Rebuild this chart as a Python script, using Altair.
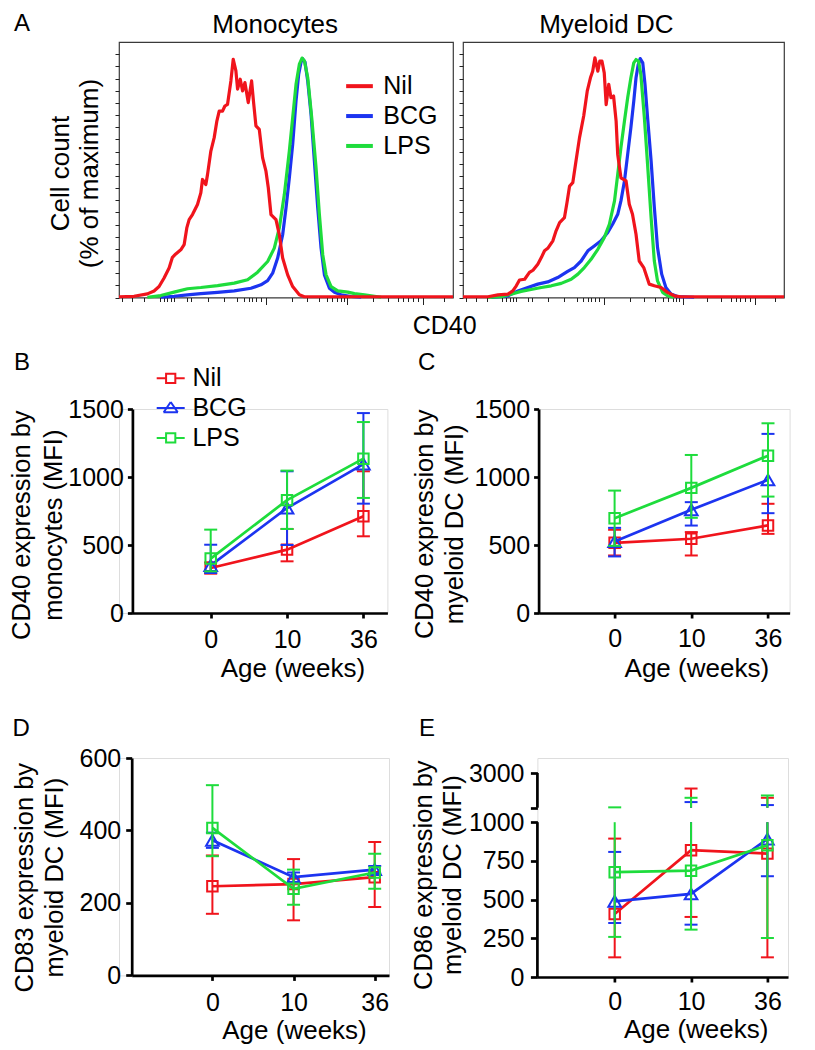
import altair as alt
import pandas as pd

FONT = "Liberation Sans"
GROUPS = ["Nil", "BCG", "LPS"]
COLORS = ["#f0141c", "#1c34f0", "#1edc3c"]
AGES = ["0", "10", "36"]

# ---------------- Panel A: CD40 histograms ----------------
# x: position on the CD40 display axis (0 = left edge, 1000 = right edge); y: % of maximum
MONO_NIL_X = [0, 45, 85, 105, 120, 135, 150, 160, 170, 185, 195, 203, 210, 220, 235, 245, 250, 260, 265, 275,
              285, 293, 300, 310, 317, 325, 335, 342, 350, 355, 363, 370, 377, 387, 397, 403, 410, 420, 430, 440,
              447, 455, 470, 480, 490, 505, 520, 540, 555, 1000]
MONO_NIL_Y = [0.3, 0.5, 1.5, 2.7, 4.5, 8.0, 12.1, 16.5, 17.9, 19.6, 21.7, 28.6, 32.0, 34.1, 38.2, 43.0, 48.5, 46.4,
              50.5, 60.2, 65.7, 72.5, 76.6, 76.6, 78.7, 79.4, 89.0, 97.9, 93.1, 85.6, 89.7, 84.9, 88.3, 80.1, 89.0,
              80.1, 70.5, 69.1, 57.4, 51.9, 45.1, 34.1, 32.0, 25.8, 16.2, 9.3, 4.5, 1.1, 0.3, 0.3]
MONO_BCG_X = [125, 165, 205, 245, 295, 345, 395, 425, 445, 460, 475, 490, 500, 510, 520, 530, 538, 545, 550, 557,
              565, 575, 585, 595, 605, 615, 630, 645, 665, 695, 725]
MONO_BCG_Y = [0.1, 0.5, 1.1, 1.6, 2.1, 2.7, 3.8, 5.2, 6.9, 10.0, 16.2, 25.8, 36.8, 49.2, 62.9, 80.8, 91.8, 96.7,
              98.1, 96.7, 89.0, 75.3, 56.0, 36.8, 20.3, 9.3, 3.8, 2.2, 1.1, 0.4, 0.1]
MONO_LPS_X = [85, 125, 165, 205, 245, 295, 345, 385, 415, 445, 465, 480, 495, 510, 520, 530, 540, 548, 555, 565,
              577, 590, 600, 610, 620, 635, 655, 685, 705, 735, 765, 785]
MONO_LPS_Y = [0.1, 0.8, 2.2, 3.6, 4.1, 4.9, 5.9, 7.3, 10.4, 14.8, 20.3, 28.6, 42.3, 60.2, 73.9, 87.6, 95.9, 98.4,
              97.3, 90.4, 73.9, 53.3, 34.1, 17.6, 9.3, 4.5, 2.7, 2.2, 1.6, 1.1, 0.5, 0.1]

MYEL_NIL_X = [0, 78, 109, 140, 155, 166, 176, 192, 207, 218, 233, 244, 254, 264, 280, 290, 301, 316, 324, 332,
              342, 352, 363, 376, 387, 397, 404, 411, 420, 426, 433, 440, 446, 454, 461, 469, 477, 482, 492, 508,
              518, 528, 539, 549, 563, 580, 596, 617, 637, 658, 679, 1000]
MYEL_NIL_Y = [0.3, 0.3, 1.1, 1.4, 2.7, 4.8, 7.2, 7.5, 10.3, 11.2, 13.7, 16.4, 19.2, 20.2, 23.3, 27.4, 30.8, 32.8,
              39.0, 45.8, 47.2, 56.1, 65.7, 74.6, 84.8, 90.3, 93.0, 98.5, 93.0, 97.1, 97.1, 92.3, 79.3, 87.6, 82.1,
              82.8, 72.5, 58.8, 49.2, 47.9, 38.3, 34.2, 26.0, 15.0, 12.3, 5.5, 4.8, 4.1, 2.1, 0.7, 0.3, 0.3]
MYEL_BCG_X = [88, 140, 171, 202, 233, 264, 295, 326, 347, 368, 389, 409, 430, 451, 466, 482, 492, 503, 513, 523,
              532, 539, 546, 552, 560, 567, 575, 586, 596, 606, 619, 632, 648, 668, 720]
MYEL_BCG_Y = [0.0, 0.7, 2.7, 4.1, 5.5, 6.4, 8.2, 10.7, 12.3, 15.0, 19.2, 21.2, 23.3, 26.7, 30.1, 34.2, 39.7, 47.9,
              58.8, 69.8, 80.7, 90.3, 95.8, 98.2, 96.4, 87.6, 73.9, 56.1, 37.1, 20.5, 9.6, 4.1, 1.4, 0.4, 0.1]
MYEL_LPS_X = [78, 119, 150, 181, 212, 244, 275, 306, 337, 358, 378, 399, 420, 440, 456, 472, 482, 492, 503, 513,
              523, 532, 539, 547, 554, 565, 575, 586, 596, 606, 622, 637, 658]
MYEL_LPS_Y = [0.0, 0.3, 1.4, 2.5, 3.3, 4.1, 4.8, 5.8, 7.5, 9.6, 12.3, 15.7, 19.8, 24.6, 30.1, 39.7, 50.6, 61.6,
              72.5, 82.1, 90.3, 96.4, 97.8, 97.1, 91.7, 73.9, 54.7, 32.8, 15.0, 6.8, 2.1, 0.7, 0.1]

HIST_TICKS = [10, 40, 75, 123, 135, 145, 155, 165, 203, 215, 265, 314, 354, 374, 389, 399, 411, 424, 439, 519, 564,
              599, 624, 639, 654, 664, 674, 684, 759, 804, 834, 849, 864, 879, 894, 909, 973]
HIST_MAJOR = [439, 684, 909]
HIST_YTICKS = list(range(0, 101, 5))

# ---------------- Panels B-E: MFI by age (mean with error range) ----------------
B_MEAN = {"Nil": [331, 466, 711], "BCG": [350, 772, 1095], "LPS": [400, 830, 1135]}
B_LO = {"Nil": [290, 380, 564], "BCG": [294, 500, 804], "LPS": [306, 618, 846]}
B_HI = {"Nil": [372, 618, 1042], "BCG": [502, 1042, 1470], "LPS": [613, 1047, 1404]}

C_MEAN = {"Nil": [516, 546, 644], "BCG": [526, 759, 979], "LPS": [697, 920, 1157]}
C_LO = {"Nil": [423, 423, 582], "BCG": [416, 643, 734], "LPS": [494, 700, 856]}
C_HI = {"Nil": [612, 595, 803], "BCG": [626, 815, 1317], "LPS": [900, 1162, 1395]}

D_MEAN = {"Nil": [246, 252, 271], "BCG": [373, 271, 292], "LPS": [407, 239, 284]}
D_LO = {"Nil": [170, 152, 189], "BCG": [352, 258, 282], "LPS": [329, 195, 239]}
D_HI = {"Nil": [331, 321, 368], "BCG": [394, 284, 302], "LPS": [525, 292, 336]}

E_MEAN = {"Nil": [407, 819, 797], "BCG": [489, 537, 892], "LPS": [677, 687, 851]}
E_LO = {"Nil": [127, 388, 127], "BCG": [349, 338, 651], "LPS": [259, 306, 252]}
E_HI = {"Nil": [894, 2105, 1571], "BCG": [808, 1324, 1152], "LPS": [1020, 1571, 1705]}

# ---------------- layout (page pixels measured on the reference) ----------------
# view boxes: (view left, top, right, bottom, y-axis x)
ROW_LEFT = 118.3
MONO_BOX = (118.3, 41.0, 452.3, 296.5, 118.3)
MYEL_BOX = (462.3, 41.0, 783.3, 296.5, 462.3)
B_BOX = (ROW_LEFT, 411.0, 386.7, 615.0, 131.7)
C_BOX = (537.3, 411.0, 788.3, 615.0, 537.3)
D_BOX = (ROW_LEFT, 758.3, 388.3, 975.7, 131.0)
E_BOX = (536.7, 758.3, 787.3, 977.3, 536.7)
B_PTS = [210.0, 286.7, 362.7]
C_PTS = [613.3, 690.0, 766.7]
D_PTS = [211.7, 292.7, 374.0]
E_PTS = [614.0, 690.0, 766.7]
PAGE_LEFT = 8.0
ROW_TOPS = [0.0, 350.0, 700.0]
ROW_BOTTOMS = [345.0, 700.0, 1042.0]

ONE = pd.DataFrame({"k": [0]})
COLOR_SCALE = alt.Scale(domain=GROUPS, range=COLORS)
SHAPES = {"Nil": "square", "BCG": "triangle-up", "LPS": "square"}
SIZES = {"Nil": 110, "BCG": 160, "LPS": 110}
# legend glyphs: a short line with an open marker drawn as separate strokes (no fillable area)
SQ = ("M-1,0H-0.33M0.33,0H1"
      "M-0.4,-0.33H0.4M0.33,-0.4V0.4M0.4,0.33H-0.4M-0.33,0.4V-0.4")
TRI = ("M-1,0H1"
       "M0,-0.44L0.5,0.3M0.52,0.3H-0.52M-0.5,0.3L0,-0.44")
LEGEND_SHAPES = [SQ, TRI, SQ]


def W(box):
    return box[2] - box[0]


def H(box):
    return box[3] - box[1]


def text_layer(box, label, px, py, size, align="left"):
    return alt.Chart(ONE).mark_text(text=label, font=FONT, fontSize=size, align=align,
                                    baseline="alphabetic", color="black").encode(
        x=alt.value(px - box[0]), y=alt.value(py - box[1]))


def anchor_layer(box, row):
    return alt.Chart(ONE).mark_rule(opacity=0).encode(
        x=alt.value(PAGE_LEFT - box[0]),
        y=alt.value(ROW_TOPS[row] - box[1]),
        y2=alt.value(ROW_BOTTOMS[row] - box[1]))


def pt_scale(box, pts):
    # point scale whose range starts at the y axis and ends at the right end of the x axis
    lo, hi = box[4] - box[0], box[2] - box[0]
    step = (pts[-1] - pts[0]) / (len(pts) - 1)
    rest = (hi - lo) - step * (len(pts) - 1)
    return alt.Scale(type="point", domain=AGES, range=[lo, hi], padding=rest / 2 / step,
                     align=(pts[0] - box[4]) / rest)


def x_axis(box, title_cx, title_base, label_base, tick=5):
    return alt.Axis(title="Age (weeks)", titleX=title_cx - box[0], titleY=title_base - box[3],
                    titleAlign="center", titleBaseline="alphabetic", titleFont=FONT, titleFontSize=26,
                    titleFontWeight="normal", titleColor="black", titleLimit=500,
                    labelFont=FONT, labelFontSize=25, labelColor="black", labelAngle=0,
                    labelBaseline="alphabetic", labelPadding=label_base - box[3] - tick,
                    tickSize=tick, tickWidth=2.7, tickColor="black",
                    domainColor="black", domainWidth=2.7, grid=False)


def y_axis(box, values, lines, base1_x, center_y, lh, tick, pad, domain=True, label_expr=None, fsize=25.5):
    kw = dict(values=values, format="d", labelFont=FONT, labelFontSize=25, labelColor="black", labelPadding=pad,
              labelFlush=False, labelOverlap=False, tickSize=tick, tickWidth=2.7, tickColor="black",
              domain=domain, domainColor="black", domainWidth=2.7, grid=False, orient="left")
    off = box[4] - box[0]
    if off:
        kw["offset"] = -off
    if lines:
        kw.update(title=lines, titleX=base1_x - box[4], titleY=center_y - box[1], titleAngle=270,
                  titleAlign="center", titleBaseline="alphabetic", titleLineHeight=lh, titleFont=FONT,
                  titleFontSize=fsize, titleFontWeight="normal", titleColor="black", titleLimit=500)
    else:
        kw["title"] = None
    if label_expr:
        kw["labelExpr"] = label_expr
    return alt.Axis(**kw)


# ---------------- histogram panels ----------------
HX_SCALE = alt.Scale(domain=[0, 1000], nice=False, zero=False)
HY_SCALE = alt.Scale(domain=[0, 105], nice=False)
HX_AXIS = alt.Axis(values=HIST_TICKS, labels=False, domain=False, grid=False, title=None,
                   tickSize={"condition": {"test": "indexof(%s, datum.value) >= 0" % str(HIST_MAJOR), "value": 7},
                             "value": 4},
                   tickWidth=1, tickColor="#222222")


def hist_panel(box, curves, yaxis, legend, extras):
    layers = []
    for g in ["BCG", "LPS", "Nil"]:
        xs, ys = curves[g]
        assert len(xs) == len(ys)
        d = pd.DataFrame({"cd40": xs, "pct": ys, "group": g})
        layers.append(alt.Chart(d).mark_line(strokeWidth=3.2, strokeJoin="round").encode(
            x=alt.X("cd40:Q", scale=HX_SCALE, axis=HX_AXIS),
            y=alt.Y("pct:Q", scale=HY_SCALE, axis=yaxis),
            color=alt.Color("group:N", scale=COLOR_SCALE, legend=legend)))
    return alt.layer(*layers, *extras).properties(
        width=W(box), height=H(box), view=alt.ViewBackground(stroke="#3a3a3a", strokeWidth=1.2))


def hy_axis(box, lines=None):
    kw = dict(values=HIST_YTICKS, labels=False, domain=False, grid=False, tickSize=4, tickWidth=1,
              tickColor="#222222")
    if lines:
        kw.update(title=lines, titleX=68 - box[0], titleY=172 - box[1], titleAngle=270, titleAlign="center",
                  titleBaseline="alphabetic", titleLineHeight=29.3, titleFont=FONT, titleFontSize=26,
                  titleFontWeight="normal", titleColor="black", titleLimit=500)
    else:
        kw["title"] = None
    return alt.Axis(**kw)


mono_legend = alt.Legend(orient="none", legendX=343.3 - MONO_BOX[0], legendY=83 - 13.35 - MONO_BOX[1],
                         title=None, symbolType="stroke", symbolSize=713, symbolStrokeWidth=4,
                         labelFont=FONT, labelFontSize=25, labelColor="black", labelOffset=8.3,
                         rowPadding=0.9, padding=0)

mono = hist_panel(MONO_BOX,
                  {"Nil": (MONO_NIL_X, MONO_NIL_Y), "BCG": (MONO_BCG_X, MONO_BCG_Y), "LPS": (MONO_LPS_X, MONO_LPS_Y)},
                  hy_axis(MONO_BOX, ["Cell count", "(% of maximum)"]), mono_legend,
                  [text_layer(MONO_BOX, "A", 13.3, 30.0, 24),
                   text_layer(MONO_BOX, "Monocytes", 274.5, 31.5, 26, "center"),
                   text_layer(MONO_BOX, "CD40", 444, 333.3, 25, "center"),
                   anchor_layer(MONO_BOX, 0)])
myel = hist_panel(MYEL_BOX,
                  {"Nil": (MYEL_NIL_X, MYEL_NIL_Y), "BCG": (MYEL_BCG_X, MYEL_BCG_Y), "LPS": (MYEL_LPS_X, MYEL_LPS_Y)},
                  hy_axis(MYEL_BOX), None,
                  [text_layer(MYEL_BOX, "Myeloid DC", 605.7, 31.5, 26, "center")])

# ---------------- line panels ----------------
b_legend = alt.Legend(orient="none", legendX=155 - B_BOX[0], legendY=379.3 - 14 - B_BOX[1], title=None,
                      symbolSize=784, symbolStrokeWidth=2, symbolFillColor="transparent",
                      labelFont=FONT, labelFontSize=25, labelColor="black",
                      labelOffset=6.7, rowPadding=1.8, padding=0)


def long_df(mean, lo, hi):
    rows = []
    for g in GROUPS:
        for i, a in enumerate(AGES):
            rows.append({"group": g, "age": a, "mean": mean[g][i], "lo": lo[g][i], "hi": hi[g][i]})
    return pd.DataFrame(rows)


def series(d, g, X, ysc, yax, legend, hi_field="hi", hi_filter=None):
    C = alt.Color("group:N", scale=COLOR_SCALE, legend=legend)
    base = alt.Chart(d)
    out = [
        base.mark_rule(strokeWidth=2).encode(x=X, y=alt.Y("lo:Q", scale=ysc, axis=yax),
                                              y2=hi_field + ":Q", color=C),
        base.mark_tick(orient="horizontal", size=13, thickness=2, opacity=1).encode(
            x=X, y=alt.Y("lo:Q", scale=ysc, axis=yax), color=C),
    ]
    hb = base.transform_filter(hi_filter) if hi_filter else base
    out.append(hb.mark_tick(orient="horizontal", size=13, thickness=2, opacity=1).encode(
        x=X, y=alt.Y("hi:Q", scale=ysc, axis=yax), color=C))
    out.append(base.mark_line(strokeWidth=2.7).encode(x=X, y=alt.Y("mean:Q", scale=ysc, axis=yax), color=C))
    out.append(base.mark_point(shape=SHAPES[g], size=SIZES[g], filled=False, strokeWidth=2, opacity=1).encode(
        x=X, y=alt.Y("mean:Q", scale=ysc, axis=yax), color=C))
    return out


def line_panel(box, pts, df, ydomain, yvalues, ylines, base1_x, center_y, lh, ytick, ypad,
               xt_cx, xt_base, xl_base, legend, extras):
    X = alt.X("age:N", sort=AGES, scale=pt_scale(box, pts), axis=x_axis(box, xt_cx, xt_base, xl_base))
    ysc = alt.Scale(domain=ydomain, nice=False)
    yax = y_axis(box, yvalues, ylines, base1_x, center_y, lh, ytick, ypad)
    layers = []
    for g in GROUPS:
        layers += series(df[df["group"] == g], g, X, ysc, yax, legend)
    if legend is not None:
        # draws nothing (filtered out); only gives the legend its line-and-marker glyphs
        layers.append(alt.Chart(df).transform_filter("false").mark_point(
            filled=False, strokeWidth=2, opacity=1).encode(
            x=X, y=alt.Y("mean:Q", scale=ysc, axis=yax),
            color=alt.Color("group:N", scale=COLOR_SCALE, legend=legend),
            shape=alt.Shape("group:N", scale=alt.Scale(domain=GROUPS, range=LEGEND_SHAPES), legend=legend)))
    return alt.layer(*layers, *extras).properties(width=W(box), height=H(box))


panel_b = line_panel(B_BOX, B_PTS, long_df(B_MEAN, B_LO, B_HI), [0, 1500], [0, 500, 1000, 1500],
                     ["CD40 expression by", "monocytes (MFI)"], 28.5, 526.7, 32, 5, 4,
                     291.7, 678.5, 649, b_legend,
                     [text_layer(B_BOX, "B", 13.3, 371.7, 24), anchor_layer(B_BOX, 1)])
panel_c = line_panel(C_BOX, C_PTS, long_df(C_MEAN, C_LO, C_HI), [0, 1500], [0, 500, 1000, 1500],
                     ["CD40 expression by", "myeloid DC (MFI)"], 431, 525.8, 30.5, 5, 4,
                     695, 678.5, 648, None,
                     [text_layer(C_BOX, "C", 416.7, 371.7, 24)])
panel_d = line_panel(D_BOX, D_PTS, long_df(D_MEAN, D_LO, D_HI), [0, 600], [0, 200, 400, 600],
                     ["CD83 expression by", "myeloid DC (MFI)"], 31.7, 877.5, 30, 6, 5,
                     293.3, 1039, 1011, None,
                     [text_layer(D_BOX, "D", 11.7, 736.7, 24), anchor_layer(D_BOX, 2)])

# ---------------- panel E with a broken y axis ----------------
E_Y0, E_Y1000_LOW = 977.3, 822.5        # lower segment: 0 .. 1000
E_Y1000_UP, E_Y3000 = 808.0, 773.3      # upper segment: 1000 .. 3000
low_ppu = (E_Y0 - E_Y1000_LOW) / 1000.0
up_ppu = (E_Y1000_UP - E_Y3000) / 2000.0
low_dom = [0, (E_BOX[3] - E_BOX[1]) / low_ppu]
up_dom = [3000 - (E_BOX[3] - E_Y3000) / up_ppu, 3000 + (E_Y3000 - E_BOX[1]) / up_ppu]

e_df = long_df(E_MEAN, E_LO, E_HI)
EX = alt.X("age:N", sort=AGES, scale=pt_scale(E_BOX, E_PTS), axis=x_axis(E_BOX, 695, 1038, 1009.5))
ysl = alt.Scale(domain=low_dom, nice=False, zero=False)
ysu = alt.Scale(domain=up_dom, nice=False, zero=False)
yal = y_axis(E_BOX, [0, 250, 500, 750, 1000], ["CD86 expression by", "myeloid DC (MFI)"], 430.7, 875, 29.5,
             7, 6.4, domain=False)
yau = y_axis(E_BOX, [1000, 3000], None, 0, 0, 0, 7, 6.4, domain=False,
             label_expr="datum.value === 3000 ? '3000' : ''")

lower = [alt.Chart(ONE).mark_rule(strokeWidth=2.7, color="black").encode(
    x=alt.value(0), y=alt.Y(datum=0, type="quantitative", scale=ysl, axis=yal), y2=alt.Y2(datum=1000))]
upper = [alt.Chart(ONE).mark_rule(strokeWidth=2.7, color="black").encode(
    x=alt.value(0), y=alt.Y(datum=1000, type="quantitative", scale=ysu, axis=yau), y2=alt.Y2(datum=3000))]
for g in GROUPS:
    d = e_df[e_df["group"] == g]
    lower += series(d.assign(hic=d["hi"].clip(upper=1000)), g, EX, ysl, yal, None,
                    hi_field="hic", hi_filter="datum.hi <= 1000")
    du = d[d["hi"] > 1000]
    du = du.assign(loc=du["lo"].clip(lower=1000))
    C = alt.Color("group:N", scale=COLOR_SCALE, legend=None)
    upper += [
        alt.Chart(du).mark_rule(strokeWidth=2).encode(x=EX, y=alt.Y("loc:Q", scale=ysu, axis=yau), y2="hi:Q",
                                                      color=C),
        alt.Chart(du).mark_tick(orient="horizontal", size=13, thickness=2, opacity=1).encode(
            x=EX, y=alt.Y("hi:Q", scale=ysu, axis=yau), color=C),
    ]
lower += [text_layer(E_BOX, "E", 418.3, 736.7, 24)]
panel_e = alt.layer(alt.layer(*lower), alt.layer(*upper)).resolve_scale(y="independent").resolve_axis(
    y="independent").properties(width=W(E_BOX), height=H(E_BOX))

# ---------------- assemble ----------------
row_a = alt.hconcat(mono, myel, spacing=MYEL_BOX[0] - MONO_BOX[2], bounds="flush").resolve_scale(
    color="independent")
row_b = alt.hconcat(panel_b, panel_c, spacing=C_BOX[0] - B_BOX[2], bounds="flush").resolve_scale(
    color="independent", shape="independent")
row_d = alt.hconcat(panel_d, panel_e, spacing=E_BOX[0] - D_BOX[2], bounds="flush").resolve_scale(
    color="independent")

chart = alt.vconcat(row_a, row_b, row_d, spacing=0, bounds="full").resolve_scale(
    color="independent", shape="independent").properties(
    padding={"left": 0, "top": -8, "right": 0, "bottom": 0}).configure_view(stroke=None).configure(font=FONT)

chart.save("out.html", embed_options={"renderer": "svg", "actions": False})
